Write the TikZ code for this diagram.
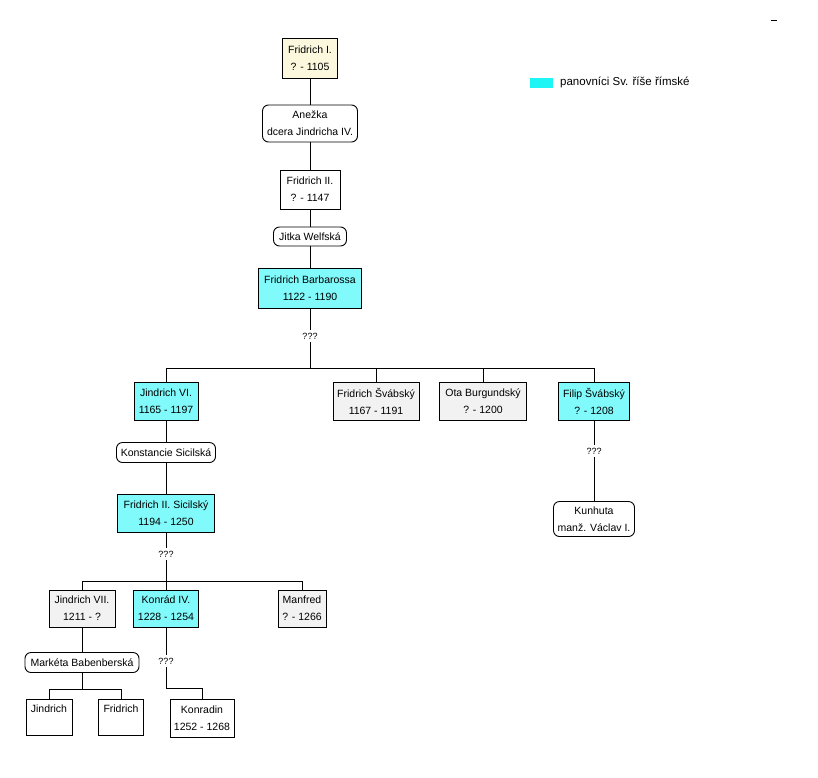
\documentclass[tikz,border=0pt]{standalone}
\usepackage{fontspec}
\setmainfont{Liberation Sans}
\definecolor{rulercyan}{RGB}{128,250,250}
\definecolor{legendcyan}{RGB}{30,245,245}
\definecolor{othergray}{RGB}{242,242,242}
\definecolor{founderyellow}{RGB}{251,248,222}
\newcommand\boxfont{\fontsize{10.5}{17}\selectfont}
\tikzset{
  box/.style={draw, line width=0.9pt, inner sep=0pt, align=center, font=\boxfont},
  spouse/.style={box, rounded corners=6pt},
  ruler/.style={fill=rulercyan},
  other/.style={fill=othergray},
  qq/.style={inner sep=3pt, font=\fontsize{9}{11}\selectfont},
  link/.style={line width=0.9pt}
}
\begin{document}
\begin{tikzpicture}[x=1pt,y=-1pt]
\useasboundingbox (0,0) rectangle (818,777);
% main line
\node[box, fill=founderyellow, minimum width=55pt, minimum height=40pt] (f1) at (310,58) {Fridrich I.\\? - 1105};
\node[spouse, fill=white, minimum width=95pt, minimum height=37pt] (anezka) at (310,123.5) {Anežka\\dcera Jindricha IV.};
\node[box, fill=white, minimum width=60pt, minimum height=39pt] (f2) at (310,189.5) {Fridrich II.\\? - 1147};
\node[spouse, fill=white, minimum width=73pt, minimum height=19pt] (jitka) at (310,236.5) {Jitka Welfská};
\node[box, ruler, minimum width=103pt, minimum height=40pt] (barb) at (310,288) {Fridrich Barbarossa\\1122 - 1190};
\node[qq] (q1) at (310,336) {???};
\coordinate (bus1) at (310,368);
% children of Barbarossa
\node[box, ruler, minimum width=64pt, minimum height=38pt] (j6) at (166,401) {Jindrich VI.\\1165 - 1197};
\node[box, other, minimum width=86pt, minimum height=38pt] (fs) at (376,401) {Fridrich Švábský\\1167 - 1191};
\node[box, other, minimum width=87pt, minimum height=38pt] (ota) at (483,401) {Ota Burgundský\\? - 1200};
\node[box, ruler, minimum width=71pt, minimum height=38pt] (filip) at (594,401) {Filip Švábský\\? - 1208};
% Jindrich VI line
\node[spouse, fill=white, minimum width=99pt, minimum height=20pt] (konst) at (166,452.5) {Konstancie Sicilská};
\node[box, ruler, minimum width=97pt, minimum height=38pt] (f2s) at (166,513) {Fridrich II. Sicilský\\1194 - 1250};
\node[qq] (q2) at (166,554) {???};
\coordinate (bus2) at (166,581);
\node[box, other, minimum width=66pt, minimum height=37pt] (j7) at (82,608.5) {Jindrich VII.\\1211 - ?};
\node[box, ruler, minimum width=65pt, minimum height=37pt] (k4) at (166,608.5) {Konrád IV.\\1228 - 1254};
\node[box, other, minimum width=48pt, minimum height=37pt] (manfred) at (302,608.5) {Manfred\\? - 1266};
\node[spouse, fill=white, minimum width=114pt, minimum height=20pt] (marketa) at (82,662.5) {Markéta Babenberská};
\coordinate (bus3) at (82,689);
\node[box, fill=white, minimum width=46pt, minimum height=36pt] (jindrich) at (49,717) {Jindrich\\\mbox{}};
\node[box, fill=white, minimum width=45pt, minimum height=36pt] (fridrich) at (121,717) {Fridrich\\\mbox{}};
\node[qq] (q3) at (166,661) {???};
\coordinate (bend3) at (166,688);
\node[box, fill=white, minimum width=64pt, minimum height=38pt] (konradin) at (202,718) {Konradin\\1252 - 1268};
% Filip line
\node[qq] (q4) at (594,451) {???};
\node[spouse, fill=white, minimum width=81pt, minimum height=35pt] (kunhuta) at (594,519) {Kunhuta\\manž. Václav I.};
% connectors
\draw[link] (f1.south) -- (anezka.north);
\draw[link] (anezka.south) -- (f2.north);
\draw[link] (f2.south) -- (jitka.north);
\draw[link] (jitka.south) -- (barb.north);
\draw[link] (barb.south) -- (q1.north);
\draw[link] (q1.south) -- (bus1);
\draw[link] (j6.north) |- (filip.north |- bus1) -- (filip.north);
\draw[link] (fs.north) -- (fs.north |- bus1);
\draw[link] (ota.north) -- (ota.north |- bus1);
\draw[link] (j6.south) -- (konst.north);
\draw[link] (konst.south) -- (f2s.north);
\draw[link] (f2s.south) -- (q2.north);
\draw[link] (q2.south) -- (bus2);
\draw[link] (j7.north) |- (manfred.north |- bus2) -- (manfred.north);
\draw[link] (k4.north) -- (k4.north |- bus2);
\draw[link] (j7.south) -- (marketa.north);
\draw[link] (marketa.south) -- (bus3);
\draw[link] (jindrich.north) |- (fridrich.north |- bus3) -- (fridrich.north);
\draw[link] (k4.south) -- (q3.north);
\draw[link] (q3.south) -- (bend3) -| (konradin.north);
\draw[link] (filip.south) -- (q4.north);
\draw[link] (q4.south) -- (kunhuta.north);
% legend
\node[fill=legendcyan, minimum width=23pt, minimum height=10pt, inner sep=0pt] (leg) at (541.5,82.5) {};
\node[anchor=west, inner sep=0pt, font=\fontsize{11.5}{14}\selectfont] (legt) at (560,82) {panovníci Sv. říše římské};
% small mark top right
\coordinate (m1) at (771,20);
\coordinate (m2) at (777,20);
\draw[line width=1pt] (m1) -- (m2);
\end{tikzpicture}
\end{document}
